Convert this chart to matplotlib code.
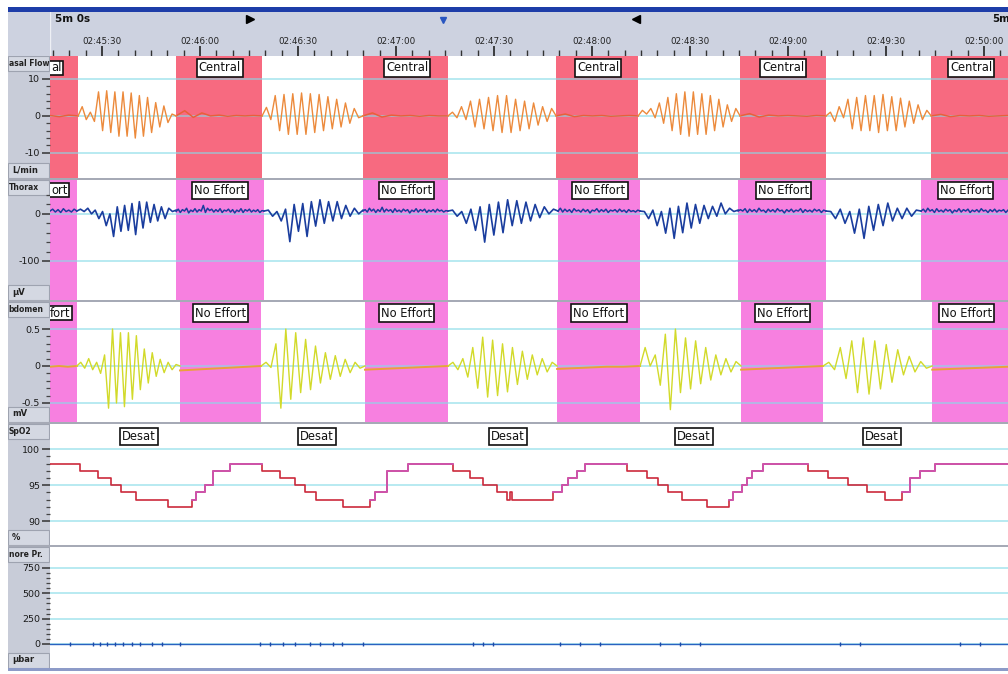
import numpy as np
import matplotlib
matplotlib.use("Agg")
import matplotlib.pyplot as plt
from matplotlib.patches import Rectangle
import matplotlib.transforms as mtransforms

plt.rcParams['font.family'] = ['DejaVu Sans']
plt.rcParams['axes.unicode_minus'] = False

# ---------------- data (time in seconds after 02:45:00) ----------------
time_tick_s = [30, 60, 90, 120, 150, 180, 210, 240, 270, 300]
time_tick_labels = ["02:45:30", "02:46:00", "02:46:30", "02:47:00", "02:47:30",
                    "02:48:00", "02:48:30", "02:49:00", "02:49:30", "02:50:00"]
window_start_s, window_end_s = 14.1, 307.3
window_label = "5m 0s"

# channel names as visible in the (left-cropped) label column
channel_names = ["asal Flow", "Thorax", "bdomen", "SpO2", "nore Pr."]
channel_units = ["L/min", "µV", "mV", "%", "µbar"]
channel_ylim = [(-16.8, 16.2), (-183, 72), (-0.757, 0.865), (86.7, 103.5), (-237, 957)]
channel_yticks = [[10, 0, -10], [0, -100], [0.5, 0, -0.5], [100, 95, 90], [750, 500, 250, 0]]
channel_yticklabels = [["10", "0", "-10"], ["0", "-100"], ["0.5", "0", "-0.5"],
                       ["100", "95", "90"], ["750", "500", "250", "0"]]

# events
central_start = [-3.1, 52.7, 109.9, 169.0, 225.3, 283.8]
central_end = [22.7, 79.0, 135.9, 194.1, 251.6, 309.0]
central_label_t = [66.1, 123.4, 181.8, 238.5, 296.0]
central_cut_label, central_cut_right_t = "al", 18.1

thorax_ne_start = [-1.5, 52.7, 109.9, 169.6, 224.7, 280.7]
thorax_ne_end = [22.3, 79.6, 135.9, 194.7, 251.6, 309.0]
thorax_ne_label_t = [66.1, 123.1, 182.4, 238.5, 294.2]
thorax_cut_label, thorax_cut_right_t = "ort", 19.9

abdomen_ne_start = [0.9, 53.9, 110.5, 169.3, 225.6, 284.1]
abdomen_ne_end = [22.3, 78.7, 135.9, 194.7, 250.7, 309.0]
abdomen_ne_label_t = [66.3, 123.1, 182.1, 238.2, 294.5]
abdomen_cut_label, abdomen_cut_right_t = "fort", 20.8

desat_label_t = [41.4, 95.8, 154.3, 211.2, 268.8]

# Nasal flow (L/min): breathing periods, successive peak / trough values
flow_breath_start = [22.7, 79.0, 135.9, 194.1, 251.6]
flow_breath_end = [52.7, 109.9, 169.0, 225.3, 283.8]
flow_breath_1 = [0, 2.5, -1.0, 1.0, -1.5, 6.5, -4.0, 6.8, -4.5, 6.5, -5.5, 6.5, -5.5, 6.2,
                 -6.0, 5.5, -5.5, 5.0, -4.5, 3.6, -3.0, 2.7, -1.8, 0.5, 0]
flow_breath_2 = [0, 2.3, -1.0, 5.5, -4.0, 5.8, -5.0, 6.0, -5.0, 6.2, -5.0, 6.0, -4.5, 5.8,
                 -4.0, 5.2, -3.5, 4.5, -3.0, 3.5, -2.0, 2.0, -0.5, 0]
flow_breath_3 = [0, 1.0, -0.5, 2.5, -1.0, 4.0, -3.0, 4.5, -3.5, 5.0, -4.0, 5.5, -4.5, 5.5,
                 -4.5, 4.5, -4.0, 4.0, -3.5, 3.5, -2.5, 2.5, -1.5, 2.0, 0]
flow_breath_4 = [0, 1.5, 0.5, 2.0, -0.5, 3.5, -2.0, 5.0, -4.0, 6.0, -5.0, 6.5, -5.5, 6.5,
                 -5.0, 6.0, -5.0, 5.5, -4.0, 4.5, -3.0, 3.0, -1.5, 2.0, 0]
flow_breath_5 = [0, 1.0, -1.5, 2.5, -0.5, 4.5, -3.5, 5.0, -4.0, 5.5, -4.0, 5.5, -4.5, 5.8,
                 -4.0, 5.2, -4.0, 4.8, -3.0, 4.0, -2.0, 3.0, -1.0, 1.5, 0]
flow_apnea_start = [14.1, 52.7, 109.9, 169.0, 225.3, 283.8]
flow_apnea_end = [22.7, 79.0, 135.9, 194.1, 251.6, 307.3]
flow_apnea_1 = [0.1, -0.2, 0.2, 0.0]
flow_apnea_2 = [0, 1.4, -0.4, 0.8, 0.0, 0.2, -0.1, 0.1, 0.0, 0.1, 0.0]
flow_apnea_3 = [0, 0.8, -0.3, 0.2, 0.0, 0.1, -0.1, 0.1, 0.0, 0.0]
flow_apnea_4 = [0, 0.5, -0.2, 0.1, 0.0, 0.1, -0.1, 0.0, 0.1, 0.0]
flow_apnea_5 = [0, 0.6, -0.3, 0.2, 0.0, 0.1, 0.0, -0.1, 0.1, 0.0]
flow_apnea_6 = [0, 0.4, -0.2, 0.1, 0.0, 0.1, -0.1, 0.0, 0.1]

# Thorax (µV)
thorax_breath_start = [22.3, 79.6, 135.9, 194.7, 251.6]
thorax_breath_end = [52.7, 109.9, 169.6, 224.7, 280.7]
thorax_breath_1 = [6, 10, 5, 12, 0, 8, -10, 5, -25, 0, -48, 15, -37, 18, -35, 22, -44, 26,
                   -30, 25, -18, 20, -15, 15, -10, 12, 5, 8]
thorax_breath_2 = [6, 8, -5, 5, -15, 10, -59, 20, -37, 22, -48, 26, -26, 30, -20, 26, -15,
                   26, -10, 18, -5, 12, 0, 8]
thorax_breath_3 = [6, 8, -5, 5, -20, 10, -35, 15, -60, 20, -45, 25, -40, 30, -25, 28, -20,
                   25, -15, 20, -8, 15, 0, 10, 6]
thorax_breath_4 = [6, 5, -10, 8, -25, 5, -41, 12, -52, 16, -40, 23, -30, 20, -20, 18, -10,
                   16, -5, 23, 0, 12, 5, 8]
thorax_breath_5 = [6, 5, -10, 10, -20, 5, -41, 10, -52, 16, -35, 20, -25, 23, -15, 12, -10,
                   12, -5, 8, 6]
thorax_apnea_start = [14.1, 52.7, 109.9, 169.6, 224.7, 280.7]
thorax_apnea_end = [22.3, 79.6, 135.9, 194.7, 251.6, 307.3]
thorax_apnea_1 = [6, 10, 4, 9, 3, 11, 5, 8, 4, 10, 6]
thorax_apnea_2 = [5, 10, 3, 9, 6, 12, 2, 8, 5, 11, 4, 9, 6, 18, 3, 12, 7, 10, 4, 9, 5, 11,
                  3, 8, 6, 10, 4, 9, 2, 8, 5, 11, 3, 9, 6, 10, 4, 8, 5, 9, 3, 7, 6]
thorax_apnea_3 = [6, 9, 4, 12, 6, 10, 3, 9, 5, 14, 4, 10, 6, 9, 3, 11, 5, 8, 4, 10, 6, 9,
                  2, 8, 5, 11, 4, 9, 6, 10, 3, 8, 5, 9, 4, 10, 6, 8, 4, 7, 6]
thorax_apnea_4 = [6, 12, 4, 10, 5, 9, 3, 11, 6, 8, 4, 10, 5, 9, 2, 8, 6, 11, 4, 9, 5, 10,
                  3, 8, 6, 9, 4, 10, 5, 8, 3, 9, 5, 7, 4, 8, 6]
thorax_apnea_5 = [6, 9, 6, 11, 3, 10, 5, 9, 4, 12, 6, 8, 3, 10, 5, 9, 4, 11, 6, 8, 2, 9,
                  5, 10, 4, 8, 6, 11, 3, 9, 5, 8, 4, 10, 6, 9, 3, 8, 6]
thorax_apnea_6 = [6, 10, 4, 12, 6, 9, 3, 11, 5, 8, 4, 10, 6, 9, 2, 8, 5, 11, 4, 9, 6, 10,
                  3, 8, 5, 9, 4, 11, 6, 8, 3, 9, 5, 10, 4, 8, 6, 9, 3, 8]

# Abdomen (mV)
abdomen_breath_start = [22.3, 78.7, 135.9, 194.7, 250.7]
abdomen_breath_end = [53.9, 110.5, 169.3, 225.6, 284.1]
abdomen_breath_1 = [0, 0.05, -0.03, 0.1, -0.05, 0.05, -0.1, 0.15, -0.57, 0.5, -0.5, 0.45,
                    -0.55, 0.45, -0.45, 0.41, -0.32, 0.23, -0.23, 0.18, -0.14, 0.09, -0.09,
                    0.05, -0.05, 0.02, 0]
abdomen_breath_2 = [0, 0.05, -0.02, 0.3, -0.57, 0.5, -0.45, 0.45, -0.36, 0.36, -0.32, 0.27,
                    -0.23, 0.18, -0.18, 0.14, -0.14, 0.09, -0.09, 0.05, -0.03, 0]
abdomen_breath_3 = [0, 0.05, -0.05, 0.1, -0.15, 0.25, -0.3, 0.39, -0.42, 0.35, -0.4, 0.3,
                    -0.35, 0.25, -0.25, 0.2, -0.18, 0.15, -0.12, 0.1, -0.08, 0.05, 0]
abdomen_breath_4 = [0, 0.25, 0.0, 0.15, -0.26, 0.43, -0.59, 0.5, -0.36, 0.38, -0.31, 0.34,
                    -0.24, 0.25, -0.19, 0.15, -0.12, 0.1, -0.08, 0.06, 0]
abdomen_breath_5 = [0, 0.05, -0.05, 0.25, -0.17, 0.34, -0.36, 0.38, -0.38, 0.34, -0.31,
                    0.29, -0.22, 0.22, -0.12, 0.13, -0.08, 0.06, -0.03, 0]
abdomen_apnea_start = [14.1, 53.9, 110.5, 169.3, 225.6, 284.1]
abdomen_apnea_end = [22.3, 78.7, 135.9, 194.7, 250.7, 307.3]
abdomen_apnea_1 = [-0.01, 0.0, -0.01, 0.0]
abdomen_apnea_2 = [-0.06, -0.05, -0.04, -0.03, -0.02, -0.01, 0.0]
abdomen_apnea_3 = [-0.05, -0.04, -0.03, -0.02, -0.01, 0.0]
abdomen_apnea_4 = [-0.04, -0.03, -0.02, -0.01, -0.01, 0.0]
abdomen_apnea_5 = [-0.05, -0.04, -0.03, -0.02, -0.01, 0.0]
abdomen_apnea_6 = [-0.05, -0.04, -0.03, -0.02, -0.01]

# SpO2 (%) step changes
spo2_t = [14.1, 23.3, 28.8, 32.8, 35.8, 40.4, 50.2, 57.6, 58.8, 61.5, 64.0, 69.2, 79.0,
          84.5, 89.1, 92.1, 95.5, 103.8, 112.0, 113.6, 117.2, 123.7, 137.4, 142.7, 146.6,
          150.9, 154.0, 154.9, 155.5, 168.1, 170.8, 172.7, 175.4, 177.9, 190.7, 196.8,
          200.2, 203.3, 207.6, 215.2, 221.9, 223.2, 225.9, 227.4, 229.0, 232.3, 246.1,
          252.2, 258.4, 264.2, 269.7, 274.9, 277.3, 280.4, 285.0]
spo2_v = [98, 97, 96, 95, 94, 93, 92, 93, 94, 95, 97, 98, 97, 96, 95, 94, 93, 92, 93, 94,
          97, 98, 97, 96, 95, 94, 93, 94, 93, 94, 95, 96, 97, 98, 97, 96, 95, 94, 93, 92,
          93, 94, 95, 96, 97, 98, 97, 96, 95, 94, 93, 94, 96, 97, 98]
spo2_recovery_start = [57.6, 112.0, 168.1, 221.9, 274.9]
spo2_recovery_end = [79.0, 137.4, 190.7, 246.1, 307.3]

# Snore pressure (µbar): small blips on the zero baseline
snore_blip_t = [20.2, 27.2, 29.4, 31.5, 34.0, 36.4, 39.2, 41.6, 45.3, 48.4, 53.9, 78.4,
                81.4, 85.4, 89.1, 93.7, 96.7, 100.7, 103.5, 109.9, 143.6, 146.6, 149.7,
                170.2, 176.3, 182.4, 200.8, 206.9, 213.0, 255.9, 262.0, 292.6, 298.8]

# ---------------- figure layout ----------------
W, H = 1008, 674
fig = plt.figure(figsize=(W / 100, H / 100), dpi=100)
fig.patch.set_facecolor("white")


def fr(x0, y0, x1, y1):
    return [x0 / W, 1 - y1 / H, (x1 - x0) / W, (y1 - y0) / H]


def fig_rect(x0, y0, x1, y1, color):
    fig.add_artist(Rectangle((x0 / W, 1 - y1 / H), (x1 - x0) / W, (y1 - y0) / H,
                             transform=fig.transFigure, facecolor=color,
                             edgecolor="none", zorder=0))


HEADER_GRAY = "#cdd2e0"
COL_GRAY = "#c8ccd8"
GRID = "#86dbe8"

# top blue bar and header
fig_rect(8, 7, W, 12, "#1d3da8")
fig_rect(8, 12, 50, 56, HEADER_GRAY)
hax = fig.add_axes(fr(50, 12, W, 56))
hax.set_facecolor(HEADER_GRAY)
hax.set_xlim(window_start_s, window_end_s)
hax.set_ylim(0, 1)
for s in hax.spines.values():
    s.set_visible(False)
hax.axvline(window_start_s, color="#eef0f5", lw=1)
hax.set_yticks([])
hax.set_xticks(time_tick_s)
hax.set_xticks(np.arange(15, 306, 5), minor=True)
hax.tick_params(axis="x", which="major", direction="in", length=7, width=1.2,
                color="#222222", labelbottom=False)
hax.tick_params(axis="x", which="minor", direction="in", length=4, width=1.0,
                color="#333333")
for t, lab in zip(time_tick_s, time_tick_labels):
    hax.text(t, 0.34, lab, ha="center", va="center", fontsize=6.3, color="#222222")
hax.text(15.6, 0.84, window_label, ha="left", va="center", fontsize=7.5,
         fontweight="bold", color="#111111")
hax.text(302.4, 0.84, "5m", ha="left", va="center", fontsize=7.3,
         fontweight="bold", color="#111111")
hax.plot([75.3], [0.85], marker=">", color="black", markersize=6, linestyle="none")
hax.plot([134.4], [0.82], marker="v", color="#2856c0", markersize=5, linestyle="none")
hax.plot([193.5], [0.85], marker="<", color="black", markersize=6, linestyle="none")

panel_px = [(56, 178), (180, 300), (302, 422), (424, 545), (547, 668)]
minor_steps = [2, 20, 0.1, 1, 50]
minor_ranges = [(-10, 10), (-100, 40), (-0.5, 0.5), (90, 100), (0, 750)]

# separators
for y0 in [178, 300, 422, 545]:
    fig_rect(8, y0, W, y0 + 2, "#a6aab6")
fig_rect(8, 668, W, 671, "#8d9bc8")

axes = []
for i, (y0, y1) in enumerate(panel_px):
    hpx = y1 - y0
    lax = fig.add_axes(fr(8, y0, 50, y1))
    lax.set_facecolor(COL_GRAY)
    lax.set_xticks([]); lax.set_yticks([])
    for s in lax.spines.values():
        s.set_visible(False)
    lax.set_xlim(0, 42); lax.set_ylim(0, hpx)
    lax.add_patch(Rectangle((0, hpx - 15), 41, 15, facecolor="#d4d8e2",
                            edgecolor="#9ea3b0", lw=0.8))
    lax.add_patch(Rectangle((0, 0.5), 41, 15, facecolor="#d4d8e2",
                            edgecolor="#9ea3b0", lw=0.8))
    lax.text(0.8, hpx - 7.5, channel_names[i], ha="left", va="center",
             fontsize=5.5, fontweight="bold", color="#222222")
    lax.text(4, 8, channel_units[i], ha="left", va="center", fontsize=6.0,
             fontweight="bold", color="#222222")

    ax = fig.add_axes(fr(50, y0, W, y1))
    ax.set_zorder(3)
    ax.set_facecolor("white")
    ax.set_xlim(window_start_s, window_end_s)
    ax.set_ylim(*channel_ylim[i])
    for s in ax.spines.values():
        s.set_visible(False)
    ax.set_xticks([])
    ax.set_yticks(channel_yticks[i])
    ax.set_yticklabels(channel_yticklabels[i])
    lo, hi = minor_ranges[i]
    ax.set_yticks(np.arange(lo, hi + minor_steps[i] * 0.5, minor_steps[i]), minor=True)
    ax.tick_params(axis="y", which="major", direction="out", length=6, width=1.1,
                   color="#333333", labelsize=6.8, labelcolor="#1a1a1a", pad=1)
    ax.tick_params(axis="y", which="minor", direction="out", length=3, width=0.9,
                   color="#444444")
    for g in channel_yticks[i]:
        ax.axhline(g, color=GRID, lw=1.1, alpha=0.75, zorder=2)
    axes.append(ax)

ax_flow, ax_th, ax_ab, ax_sp, ax_sn = axes

BOX_KW = dict(boxstyle="square,pad=0.18", fc="white", ec="#111111", lw=1.2)


def events(ax, starts, ends, label_t, color, label, ylab, cut=None):
    for a, b in zip(starts, ends):
        ax.axvspan(a, b, color=color, lw=0, zorder=1)
    tr = mtransforms.blended_transform_factory(ax.transData, ax.transAxes)
    for t in label_t:
        ax.text(t, ylab, label, transform=tr, ha="center", va="center", fontsize=8.3,
                color="#111111", zorder=6, bbox=BOX_KW)
    if cut is not None:
        txt, right_t = cut
        h = 14.0 / (ax.bbox.height)
        ax.add_patch(Rectangle((window_start_s - 2, ylab - h / 2), right_t - window_start_s + 2,
                               h, transform=tr, facecolor="white", edgecolor="#111111",
                               lw=1.2, zorder=6, clip_on=True))
        ax.text(right_t - 0.5, ylab, txt, transform=tr, ha="right", va="center",
                fontsize=8.3, color="#111111", zorder=7)


events(ax_flow, central_start, central_end, central_label_t, "#f76a80", "Central", 0.902,
       (central_cut_label, central_cut_right_t))
events(ax_th, thorax_ne_start, thorax_ne_end, thorax_ne_label_t, "#f780e0", "No Effort",
       0.915, (thorax_cut_label, thorax_cut_right_t))
events(ax_ab, abdomen_ne_start, abdomen_ne_end, abdomen_ne_label_t, "#f780e0", "No Effort",
       0.908, (abdomen_cut_label, abdomen_cut_right_t))
events(ax_sp, [], [], desat_label_t, "white", "Desat", 0.90)


def draw_pieces(ax, starts, ends, pieces, color, lw=1.0):
    for a, b, vals in zip(starts, ends, pieces):
        ts = np.linspace(a, b, len(vals))
        ax.plot(ts, vals, color=color, lw=lw, zorder=4, solid_joinstyle="round")


draw_pieces(ax_flow, flow_apnea_start, flow_apnea_end,
            [flow_apnea_1, flow_apnea_2, flow_apnea_3, flow_apnea_4, flow_apnea_5,
             flow_apnea_6], "#e8603a", 1.1)
draw_pieces(ax_flow, flow_breath_start, flow_breath_end,
            [flow_breath_1, flow_breath_2, flow_breath_3, flow_breath_4, flow_breath_5],
            "#ec8a3c", 1.0)

draw_pieces(ax_th, thorax_apnea_start, thorax_apnea_end,
            [thorax_apnea_1, thorax_apnea_2, thorax_apnea_3, thorax_apnea_4,
             thorax_apnea_5, thorax_apnea_6], "#1a3d9e", 1.1)
draw_pieces(ax_th, thorax_breath_start, thorax_breath_end,
            [thorax_breath_1, thorax_breath_2, thorax_breath_3, thorax_breath_4,
             thorax_breath_5], "#1a3d9e", 1.2)

draw_pieces(ax_ab, abdomen_apnea_start, abdomen_apnea_end,
            [abdomen_apnea_1, abdomen_apnea_2, abdomen_apnea_3, abdomen_apnea_4,
             abdomen_apnea_5, abdomen_apnea_6], "#eba03a", 1.4)
draw_pieces(ax_ab, abdomen_breath_start, abdomen_breath_end,
            [abdomen_breath_1, abdomen_breath_2, abdomen_breath_3, abdomen_breath_4,
             abdomen_breath_5], "#d2da2a", 1.0)


def step_xy(ts, vs, a, b):
    ts = np.asarray(ts); vs = np.asarray(vs)
    idx = max(np.searchsorted(ts, a, side="right") - 1, 0)
    cur = vs[idx]
    xs, ys = [a], [cur]
    for t, v in zip(ts, vs):
        if a < t < b:
            xs += [t, t]; ys += [cur, v]; cur = v
    xs.append(b); ys.append(cur)
    return xs, ys


xs, ys = step_xy(spo2_t, spo2_v, window_start_s, window_end_s)
ax_sp.plot(xs, ys, color="#cc2a3c", lw=1.2, zorder=4)
for a, b in zip(spo2_recovery_start, spo2_recovery_end):
    xs, ys = step_xy(spo2_t, spo2_v, a, b)
    ax_sp.plot(xs, ys, color="#cc55b8", lw=1.2, zorder=5)

ax_sn.axhline(0, color="#2a62c0", lw=1.0, zorder=4)
ax_sn.plot(snore_blip_t, np.zeros(len(snore_blip_t)), linestyle="none", marker="|",
           markersize=2.5, color="#1d4aa8", zorder=5)

fig.savefig("out.png", dpi=100, facecolor="white")
